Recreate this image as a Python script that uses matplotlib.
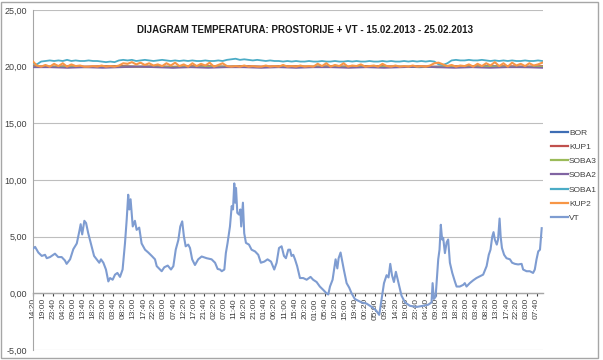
import numpy as np
import matplotlib
matplotlib.use("Agg")
import matplotlib.pyplot as plt
from matplotlib.lines import Line2D
from matplotlib.patches import Rectangle

plt.rcParams["font.family"] = ["Liberation Sans", "DejaVu Sans"]

TITLE = "DIJAGRAM TEMPERATURA: PROSTORIJE + VT - 15.02.2013 - 25.02.2013"

# x tick labels, one every 280 minutes starting 15.02. 14:20
TIME_LABELS = [
    "14:20", "19:00", "23:40", "04:20", "09:00", "13:40", "18:20", "23:00", "03:40", "08:20",
    "13:00", "17:40", "22:20", "03:00", "07:40", "12:20", "17:00", "21:40", "02:20", "07:00",
    "11:40", "16:20", "21:00", "01:40", "06:20", "11:00", "15:40", "20:20", "01:00", "05:40",
    "10:20", "15:00", "19:40", "00:20", "05:00", "09:40", "14:20", "19:00", "23:40", "04:20",
    "09:00", "13:40", "18:20", "23:00", "03:40", "08:20", "13:00", "17:40", "22:20", "03:00",
    "07:40",
]
LABEL_STEP_H = 280 / 60

# room sensors, hours since start
ROOM_HOURS_2H = np.arange(0, 237, 2)
ROOM_HOURS_8H = np.linspace(0, 236, 30)

BOR = [20.0, 20.0, 19.95, 20.0, 20.0, 20.05, 20.0, 20.0, 19.95, 20.0,
       20.0, 20.0, 20.05, 20.0, 20.0, 19.95, 20.0, 20.0, 20.0, 20.05,
       20.0, 20.0, 19.95, 20.0, 20.0, 20.0, 20.05, 20.0, 20.0, 20.0]
KUP1 = [20.05, 20.0, 20.05, 20.0, 20.05, 20.05, 20.0, 20.05, 20.0, 20.05,
        20.05, 20.0, 20.05, 20.0, 20.05, 20.05, 20.0, 20.05, 20.0, 20.05,
        20.05, 20.0, 20.05, 20.0, 20.05, 20.05, 20.0, 20.05, 20.0, 20.05]
SOBA3 = [20.0, 20.0, 20.0, 19.95, 20.0, 20.0, 20.0, 20.0, 19.95, 20.0,
         20.0, 20.0, 20.0, 19.95, 20.0, 20.0, 20.0, 20.0, 19.95, 20.0,
         20.0, 20.0, 20.0, 19.95, 20.0, 20.0, 20.0, 20.0, 19.95, 20.0]
SOBA2 = [19.95, 19.95, 19.9, 19.95, 19.9, 19.95, 20.0, 19.95, 19.9, 19.95,
         19.9, 19.95, 19.95, 19.9, 19.95, 19.9, 19.95, 19.95, 19.9, 19.95,
         19.9, 19.95, 20.0, 19.95, 19.9, 19.95, 19.9, 19.95, 19.95, 19.9]
SOBA1 = [20.3, 20.2, 20.45, 20.5, 20.55, 20.5, 20.55, 20.5, 20.6, 20.5,
         20.55, 20.5, 20.5, 20.55, 20.5, 20.5, 20.45, 20.4, 20.45, 20.4,
         20.55, 20.6, 20.55, 20.6, 20.5, 20.55, 20.6, 20.55, 20.5, 20.55,
         20.6, 20.55, 20.5, 20.55, 20.5, 20.55,
         20.5, 20.55, 20.5, 20.5, 20.55, 20.5, 20.5, 20.55, 20.5, 20.6,
         20.65, 20.7, 20.6, 20.65, 20.6, 20.55, 20.6, 20.55, 20.5, 20.55,
         20.5, 20.5, 20.45, 20.5, 20.45, 20.5, 20.45, 20.45, 20.5, 20.45,
         20.45, 20.5, 20.45, 20.45, 20.5, 20.45, 20.45, 20.5, 20.45, 20.5,
         20.45, 20.45, 20.5, 20.45, 20.45, 20.5, 20.45, 20.5, 20.45, 20.45,
         20.5, 20.45, 20.5, 20.45, 20.5, 20.45, 20.5, 20.45,
         20.2, 20.15, 20.3,
         20.55, 20.6, 20.55, 20.55, 20.6, 20.55, 20.55, 20.6, 20.55, 20.5,
         20.55, 20.5, 20.55, 20.5, 20.55, 20.5, 20.5, 20.55, 20.5, 20.5,
         20.55, 20.5]
KUP2 = [20.5, 20.1, 20.0, 20.15, 20.0, 20.25, 20.05, 20.3, 20.0, 20.2,
        20.05, 20.1, 20.0, 20.0, 20.05, 20.0, 20.1, 20.0, 20.05, 20.0, 20.1,
        20.3, 20.25, 20.4, 20.2, 20.35, 20.15, 20.3, 20.1,
        20.2, 20.05, 20.3, 20.1, 20.35, 20.05, 20.2, 20.0, 20.3, 20.05,
        20.25, 20.1, 20.35, 20.0, 20.15, 20.3, 20.05,
        20.0, 20.05, 20.0, 20.1, 20.0, 20.05, 20.0, 20.0, 20.1, 20.0,
        20.05, 20.0, 20.15, 20.0, 20.05, 20.0, 20.1, 20.0, 20.05, 20.0,
        20.25, 20.05, 20.3, 20.0, 20.15, 20.05, 20.3, 20.0, 20.1, 20.05,
        20.2, 20.0, 20.05, 20.1, 20.0, 20.25, 20.05, 20.0, 20.1, 20.0,
        20.05, 20.0, 20.1, 20.0, 20.05, 20.0, 20.1, 20.3, 20.35, 20.2,
        20.05, 20.15, 20.0, 20.1, 20.05, 20.2, 20.0, 20.25, 20.05, 20.3,
        20.1, 20.4, 20.05, 20.3, 20.0, 20.35, 20.1, 20.25, 20.05, 20.3,
        20.1, 20.2, 20.35]

# outdoor temperature (VT)
VT_HOURS = [
    0, 1.2, 2.7, 4.3, 5.8, 6.6, 8.1, 10.4, 11.9, 13.5, 15.0, 15.8, 17.4, 18.9, 20.5,
    21.7, 22.3, 23.0, 24.0, 24.8, 25.8, 27.4, 28.5, 29.7, 30.9, 31.7, 32.8, 34.0, 35.1,
    35.9, 37.1, 38.2, 39.3, 40.5, 41.7, 42.8, 43.6, 44.3, 44.8, 45.4, 46.4, 47.4, 48.2,
    49.4, 50.5, 52.1, 53.6, 55.2, 56.7, 57.5, 58.5, 59.8, 61.0, 62.6, 64.1, 65.2, 66.3,
    67.5, 68.4, 69.3, 70.1, 70.9, 72.1, 72.9, 73.9, 75.2, 76.7, 78.3, 80.6, 82.9, 84.5,
    85.7, 86.8, 87.6, 88.8, 89.5, 90.3, 91.4, 92.2, 92.8, 93.4, 93.8, 94.2, 94.8, 95.6,
    96.2, 96.6, 97.4, 98.0, 98.8, 100.2, 101.4, 103.0, 104.5, 105.7, 107.3, 108.8, 110.4,
    111.9, 113.0, 114.1, 115.3, 116.4, 117.3, 118.4, 119.2, 119.9, 120.7, 121.5, 122.5,
    123.8, 125.3, 126.9, 128.7, 129.9, 131.5, 133.0, 134.6, 136.1, 136.9, 137.7, 138.9,
    139.7, 140.3, 141.1, 141.7, 142.6, 143.2, 144.1, 145.4, 146.6, 147.7, 149.2, 152.3,
    154.6, 157.0, 159.0, 160.5, 161.6, 162.7, 163.9, 164.8, 165.6, 166.4, 167.3, 168.2,
    169.3, 170.8, 172.4, 174.7, 177.8, 180.8, 183.2, 184.7, 185.2, 185.8, 186.6, 187.3,
    187.8, 188.4, 189.0, 189.6, 190.1, 190.9, 191.7, 192.4, 193.2, 194.3, 195.5, 196.3,
    197.8, 199.4, 200.1, 200.9, 202.4, 204.0, 205.5, 207.1, 208.6, 210.2, 211.2, 212.0,
    212.8, 213.4, 214.0, 214.9, 215.5, 216.2, 216.7, 217.3, 218.3, 219.4, 221.0, 222.0,
    223.3, 224.8, 226.4, 227.1, 228.7, 230.2, 231.7, 232.5, 233.3, 234.1, 234.9, 235.7,
]
VT = [
    3.9, 4.1, 3.6, 3.3, 3.4, 3.1, 3.2, 3.5, 3.2, 3.2, 2.9, 2.6, 3.0, 3.9, 4.4,
    5.5, 6.1, 5.2, 6.4, 6.2, 5.3, 4.1, 3.3, 3.0, 2.7, 3.0, 2.7, 2.1, 1.05,
    1.35, 1.2, 1.65, 1.8, 1.45, 2.1, 4.4, 6.5, 8.7, 7.4, 8.3, 5.9, 6.4, 5.6,
    5.8, 4.4, 3.85, 3.6, 3.3, 3.0, 2.4, 2.2, 1.95, 2.3, 2.45, 2.1, 2.4, 3.85,
    4.7, 5.9, 6.35, 5.0, 4.15, 4.3, 4.0, 3.0, 2.5, 3.0, 3.25, 3.1, 3.0, 2.7,
    2.15, 2.1, 1.95, 2.1, 3.55, 4.45, 5.9, 7.7, 7.4, 9.7, 8.0, 9.3, 7.1, 6.95,
    7.4, 5.9, 8.0, 5.3, 4.45, 4.3, 3.85, 3.7, 3.4, 2.7, 2.8, 3.0, 2.8,
    2.1, 2.7, 4.0, 4.15, 3.3, 3.1, 3.85, 3.85, 3.3, 3.4, 3.0, 2.4,
    1.35, 1.35, 1.2, 1.45, 1.2, 1.0, 0.6, 0.3, 0.0, -0.1, 0.6, 1.2,
    2.2, 3.0, 2.2, 3.1, 3.6, 3.0, 2.1, 0.9, 0.5, 0.0, -0.5, -0.8,
    -0.9, -1.2, -1.5, -1.9, -0.5, 0.9, 1.6, 1.4, 2.6, 1.6, 1.0, 1.9,
    1.0, -0.2, -0.8, -1.1, -1.2, -1.1, -1.0, -0.8, 0.9, -0.5, -0.3, 1.6,
    3.0, 3.85, 6.05, 4.75, 4.9, 3.55, 4.5, 4.75, 2.7, 1.8, 1.05, 0.6,
    0.6, 0.75, 0.9, 0.6, 0.9, 1.15, 1.35, 1.5, 1.65, 2.4, 3.4, 3.85,
    5.0, 5.4, 4.75, 4.3, 4.75, 6.6, 5.0, 4.0, 3.4, 3.1, 3.0, 2.7,
    2.6, 2.55, 2.6, 2.1, 1.95, 1.95, 1.8, 2.1, 3.0, 3.7, 3.85, 5.75,
]

SERIES = [
    ("BOR", ROOM_HOURS_8H, BOR, "#3E6DB4"),
    ("KUP1", ROOM_HOURS_8H, KUP1, "#C0504D"),
    ("SOBA3", ROOM_HOURS_8H, SOBA3, "#9BBB59"),
    ("SOBA2", ROOM_HOURS_8H, SOBA2, "#8064A2"),
    ("SOBA1", ROOM_HOURS_2H, SOBA1, "#4BACC6"),
    ("KUP2", ROOM_HOURS_2H, KUP2, "#F79646"),
    ("VT", VT_HOURS, VT, "#7E9CD1"),
]

W, H = 603, 360
fig = plt.figure(figsize=(W / 100, H / 100), dpi=100)
ax = fig.add_axes([32.5 / W, 10 / H, (543 - 32.5) / W, 340 / H])

handles = []
for name, hours, values, color in SERIES:
    lw = 1.5 if name in ("VT", "KUP2") else 1.3
    ax.plot(hours, values, color=color, linewidth=lw, zorder=3)
    handles.append(Line2D([], [], color=color, linewidth=1.6))

# spine position first: moving it resets the tick objects
for side in ("top", "right"):
    ax.spines[side].set_visible(False)
ax.spines["bottom"].set_position(("data", 0))
ax.spines["bottom"].set_color("#A6A6A6")
ax.spines["bottom"].set_linewidth(1.0)
ax.spines["left"].set_color("#A6A6A6")
ax.spines["left"].set_linewidth(0.8)

ax.set_xlim(0, 236.3)
ax.set_ylim(-5, 25)
yticks = np.arange(-5, 26, 5)
ax.set_yticks(yticks)
ax.set_yticklabels([f"{v:.2f}".replace(".", ",") for v in yticks])
ax.yaxis.grid(True, color="#BEBEBE", linewidth=0.8)
ax.set_axisbelow(True)

ax.set_xticks(np.arange(len(TIME_LABELS)) * LABEL_STEP_H)
ax.set_xticklabels(TIME_LABELS)
ax.tick_params(axis="x", direction="out", length=2.5, width=0.8, color="#404040", pad=1,
               labelrotation=90, labelsize=6, labelcolor="#404040")
ax.tick_params(axis="y", length=0, labelsize=6.5, labelcolor="#404040", pad=4)

fig.text(305 / W, 1 - 30 / H, TITLE, ha="center", va="center",
         fontsize=7, fontweight="bold", color="#1A1A1A")

fig.legend(handles, [s[0] for s in SERIES], loc="upper left",
           bbox_to_anchor=(551 / W, 1 - 129 / H), frameon=False, fontsize=6,
           handlelength=2.0, handletextpad=0.15, labelspacing=0.76,
           borderaxespad=0, borderpad=0, labelcolor="#404040")

fig.patches.append(Rectangle((1 / W, 2 / H), 597 / W, 356 / H, transform=fig.transFigure,
                             fill=False, edgecolor="#A6A6A6", linewidth=1.0))

fig.savefig("out.png", dpi=100)
plt.close(fig)
